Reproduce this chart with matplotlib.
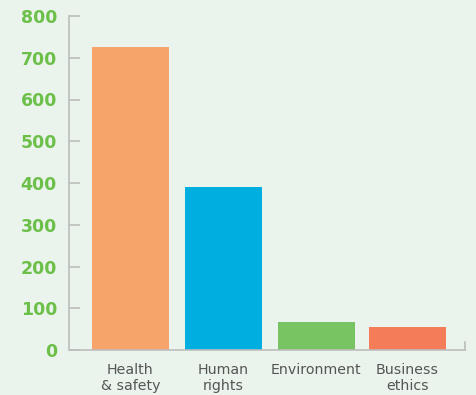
import matplotlib
matplotlib.use("Agg")
import matplotlib.pyplot as plt

categories = ["Health\n& safety", "Human\nrights", "Environment", "Business\nethics"]
values = [725, 390, 67, 55]
colors = ["#f7a46b", "#00aee0", "#78c462", "#f47c58"]
yticks = [0, 100, 200, 300, 400, 500, 600, 700, 800]

bg = "#eaf4ec"
spine_c = "#bdbdbd"

fig = plt.figure(figsize=(4.77, 3.95), dpi=100, facecolor=bg)
ax = fig.add_axes([69.5/477, 1-350/395, (465-69.5)/477, (350-16)/395])
ax.set_facecolor(bg)

xpos = [0, 1.005, 2.015, 3.0]
ax.bar(xpos, values, width=0.835, color=colors, zorder=2)

ax.set_xlim(-0.66, 3.625)
ax.set_ylim(0, 800)
ax.set_yticks(yticks)
ax.set_yticklabels([str(t) for t in yticks], color="#6cc04a", fontsize=12.5,
                   fontweight="bold", family="DejaVu Sans")
ax.tick_params(axis="y", direction="in", length=8, width=1.2, color=spine_c, pad=9)
ax.set_xticks(xpos)
ax.set_xticklabels(categories, color="#555555", fontsize=10.2, family="DejaVu Sans",
                   linespacing=1.2)
ax.tick_params(axis="x", length=0, pad=9)

for s in ["top", "right"]:
    ax.spines[s].set_visible(False)
for s in ["left", "bottom"]:
    ax.spines[s].set_color(spine_c)
    ax.spines[s].set_linewidth(1.2)

ax.plot([1, 1], [0, 0.025], transform=ax.transAxes, color=spine_c, lw=1.2,
        clip_on=False)

fig.savefig("out.png", dpi=100, facecolor=bg)
